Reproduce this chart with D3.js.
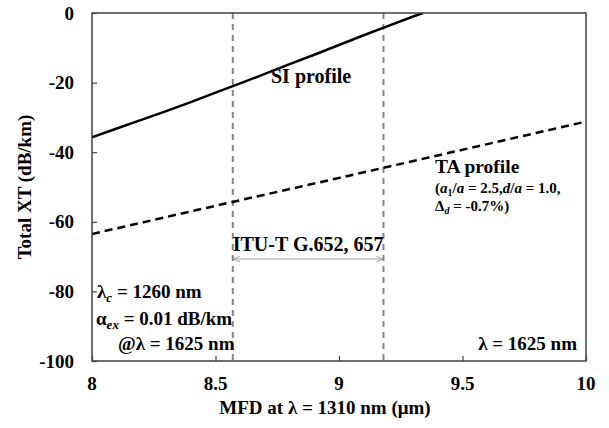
<!DOCTYPE html>
<html>
<head>
<meta charset="utf-8">
<script src="https://cdn.jsdelivr.net/npm/d3@7"></script>
<style>
  html, body { margin: 0; padding: 0; background: #fff; }
  svg text { font-family: "Liberation Serif", "DejaVu Serif", serif; font-weight: bold; fill: #000; }
</style>
</head>
<body>
<div id="chart"></div>
<script>
// SI profile total crosstalk vs MFD
const siMfd = [8.0, 8.1, 8.2, 8.3, 8.4, 8.5, 8.6, 8.7, 8.8, 8.9, 9.0, 9.1, 9.2, 9.3, 9.34];
const siXT = [-35.7, -33.2, -30.7, -28.2, -25.6, -22.9, -20.2, -17.5, -14.7, -12.0, -9.2, -6.4, -3.7, -1.0, 0];

// TA profile total crosstalk vs MFD
const taMfd = [8.0, 8.5, 9.0, 9.5, 10.0];
const taXT = [-63.5, -55.4, -47.4, -39.3, -31.2];

// ITU-T G.652/657 MFD range
const ituRange = [8.57, 9.18];

const xTicks = [8, 8.5, 9, 9.5, 10];
const yTicks = [0, -20, -40, -60, -80, -100];

const width = 609, height = 428;
const plot = { left: 92, right: 586, top: 13, bottom: 361 };

const svg = d3.select('#chart').append('svg')
    .attr('width', width)
    .attr('height', height);

const x = d3.scaleLinear().domain([8, 10]).range([plot.left, plot.right]);
const y = d3.scaleLinear().domain([-100, 0]).range([plot.bottom, plot.top]);

// clip to plot area
const defs = svg.append('defs');
defs.append('clipPath')
    .attr('id', 'plot-clip')
    .append('rect')
    .attr('x', plot.left).attr('y', plot.top)
    .attr('width', plot.right - plot.left)
    .attr('height', plot.bottom - plot.top);

// arrow markers for the ITU range
defs.append('marker')
    .attr('id', 'arr-end')
    .attr('viewBox', '0 -5 10 10')
    .attr('refX', 9).attr('refY', 0)
    .attr('markerWidth', 7).attr('markerHeight', 7)
    .attr('markerUnits', 'userSpaceOnUse')
    .attr('orient', 'auto')
    .append('path')
    .attr('d', 'M0,-4L10,0L0,4')
    .attr('fill', 'none')
    .attr('stroke', '#999')
    .attr('stroke-width', 1.2);
defs.append('marker')
    .attr('id', 'arr-start')
    .attr('viewBox', '0 -5 10 10')
    .attr('refX', 1).attr('refY', 0)
    .attr('markerWidth', 7).attr('markerHeight', 7)
    .attr('markerUnits', 'userSpaceOnUse')
    .attr('orient', 'auto')
    .append('path')
    .attr('d', 'M10,-4L0,0L10,4')
    .attr('fill', 'none')
    .attr('stroke', '#999')
    .attr('stroke-width', 1.2);

// axes with inward ticks
const xAxis = d3.axisBottom(x).tickValues(xTicks).tickSize(-5).tickFormat('');
const yAxis = d3.axisLeft(y).tickValues(yTicks).tickSize(-5).tickFormat('');

svg.append('g')
    .attr('transform', `translate(0,${plot.bottom})`)
    .call(xAxis)
    .call(g => g.select('.domain').remove())
    .call(g => g.selectAll('line').attr('stroke', '#404040').attr('stroke-width', 1.2));

svg.append('g')
    .attr('transform', `translate(${plot.left},0)`)
    .call(yAxis)
    .call(g => g.select('.domain').remove())
    .call(g => g.selectAll('line').attr('stroke', '#404040').attr('stroke-width', 1.2));

// tick labels
svg.append('g').selectAll('text')
    .data(xTicks)
    .join('text')
    .attr('x', d => x(d))
    .attr('y', 390)
    .attr('text-anchor', 'middle')
    .attr('font-size', 19)
    .text(d => d);

svg.append('g').selectAll('text')
    .data(yTicks)
    .join('text')
    .attr('x', 74)
    .attr('y', d => y(d))
    .attr('dy', '0.35em')
    .attr('text-anchor', 'end')
    .attr('font-size', 19)
    .text(d => d);

// axis titles
svg.append('text')
    .attr('x', 325)
    .attr('y', 414)
    .attr('text-anchor', 'middle')
    .attr('font-size', 19)
    .text('MFD at \u03bb = 1310 nm (\u03bcm)');

svg.append('text')
    .attr('transform', `translate(31,${(plot.top + plot.bottom) / 2}) rotate(-90)`)
    .attr('text-anchor', 'middle')
    .attr('font-size', 19)
    .text('Total XT (dB/km)');

// ITU range dashed verticals
svg.append('g').selectAll('line')
    .data(ituRange)
    .join('line')
    .attr('x1', d => x(d)).attr('x2', d => x(d))
    .attr('y1', plot.top).attr('y2', plot.bottom)
    .attr('stroke', '#858585')
    .attr('stroke-width', 2)
    .attr('stroke-dasharray', '6,5');

// curves
const line = d3.line().x(d => x(d[0])).y(d => y(d[1]));

svg.append('path')
    .datum(d3.zip(siMfd, siXT))
    .attr('clip-path', 'url(#plot-clip)')
    .attr('fill', 'none')
    .attr('stroke', '#000')
    .attr('stroke-width', 2.5)
    .attr('d', line);

svg.append('path')
    .datum(d3.zip(taMfd, taXT))
    .attr('clip-path', 'url(#plot-clip)')
    .attr('fill', 'none')
    .attr('stroke', '#000')
    .attr('stroke-width', 2.5)
    .attr('stroke-dasharray', '8,5')
    .attr('d', line);

// frame
svg.append('rect')
    .attr('x', plot.left).attr('y', plot.top)
    .attr('width', plot.right - plot.left)
    .attr('height', plot.bottom - plot.top)
    .attr('fill', 'none')
    .attr('stroke', '#404040')
    .attr('stroke-width', 1.5);

// ITU arrow + label
svg.append('line')
    .attr('x1', x(ituRange[0]) + 1).attr('x2', x(ituRange[1]) - 1)
    .attr('y1', 259).attr('y2', 259)
    .attr('stroke', '#999')
    .attr('stroke-width', 1.2)
    .attr('marker-start', 'url(#arr-start)')
    .attr('marker-end', 'url(#arr-end)');

svg.append('text')
    .attr('x', (x(ituRange[0]) + x(ituRange[1])) / 2)
    .attr('y', 251)
    .attr('text-anchor', 'middle')
    .attr('font-size', 20)
    .text('ITU-T G.652, 657');

// curve labels
svg.append('text')
    .attr('x', 271).attr('y', 83)
    .attr('font-size', 20)
    .text('SI profile');

svg.append('text')
    .attr('x', 435).attr('y', 173)
    .attr('font-size', 19.5)
    .text('TA profile');

const ta1 = svg.append('text').attr('x', 435).attr('y', 193).attr('font-size', 15);
ta1.append('tspan').text('(');
ta1.append('tspan').attr('font-style', 'italic').text('a');
ta1.append('tspan').attr('font-size', 10).attr('dy', 3).text('1');
ta1.append('tspan').attr('dy', -3).text('/');
ta1.append('tspan').attr('font-style', 'italic').text('a');
ta1.append('tspan').text(' = 2.5,');
ta1.append('tspan').attr('font-style', 'italic').text('d');
ta1.append('tspan').text('/');
ta1.append('tspan').attr('font-style', 'italic').text('a');
ta1.append('tspan').text(' = 1.0,');

const ta2 = svg.append('text').attr('x', 435).attr('y', 211).attr('font-size', 15);
ta2.append('tspan').text('\u0394');
ta2.append('tspan').attr('font-style', 'italic').attr('font-size', 10).attr('dy', 3).text('d');
ta2.append('tspan').attr('dy', -3).text(' = -0.7%)');

// condition notes
const n1 = svg.append('text').attr('x', 97).attr('y', 298).attr('font-size', 19);
n1.append('tspan').text('\u03bb');
n1.append('tspan').attr('font-style', 'italic').attr('font-size', 13).attr('dy', 4).text('c');
n1.append('tspan').attr('dy', -4).text(' = 1260 nm');

const n2 = svg.append('text').attr('x', 96).attr('y', 325).attr('font-size', 19);
n2.append('tspan').text('\u03b1');
n2.append('tspan').attr('font-style', 'italic').attr('font-size', 13).attr('dy', 4).text('ex');
n2.append('tspan').attr('dy', -4).text(' = 0.01 dB/km');

svg.append('text')
    .attr('x', 118).attr('y', 350)
    .attr('font-size', 19)
    .text('@\u03bb = 1625 nm');

svg.append('text')
    .attr('x', 577).attr('y', 350)
    .attr('text-anchor', 'end')
    .attr('font-size', 19)
    .text('\u03bb = 1625 nm');
</script>
</body>
</html>
